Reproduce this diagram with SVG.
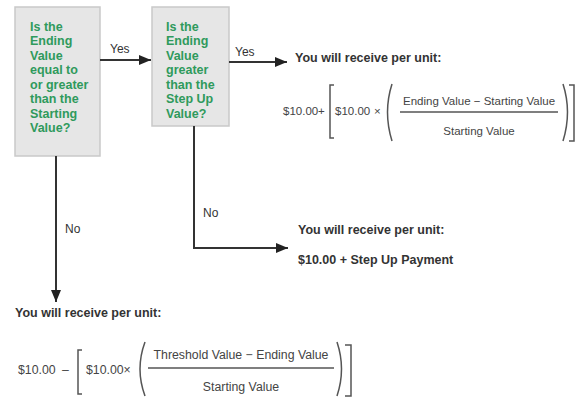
<svg xmlns="http://www.w3.org/2000/svg" width="579" height="398" viewBox="0 0 579 398">
<style>
.box{fill:#e6e6e6;stroke:#c9c9c9;stroke-width:1.5}
.q{font-family:"Liberation Sans",Arial,sans-serif;font-weight:bold;font-size:12.5px;fill:#2f9a5c}
.lbl{font-family:"Liberation Sans",Arial,sans-serif;font-size:12px;fill:#333}
.out{font-family:"Liberation Sans",Arial,sans-serif;font-weight:bold;font-size:12.5px;fill:#333}
.f{font-family:"Liberation Sans",Arial,sans-serif;font-size:11.5px;fill:#444}
.fb{font-family:"Liberation Sans",Arial,sans-serif;font-size:12.3px;fill:#444}
.con{fill:none;stroke:#333;stroke-width:2}
.br{fill:none;stroke:#555;stroke-width:1.5}
.fl{stroke:#555;stroke-width:1.3}
</style>
<defs>
<marker id="ah" markerUnits="userSpaceOnUse" markerWidth="13" markerHeight="11" refX="12" refY="5" orient="auto">
<path d="M0,0 L12,5 L0,10 z" fill="#222"/>
</marker>
</defs>

<g id="q1">
<rect class="box" x="15" y="7" width="85" height="149"/>
<text class="q" x="30" y="30.5">Is the</text>
<text class="q" x="30" y="45">Ending</text>
<text class="q" x="30" y="59.5">Value</text>
<text class="q" x="30" y="74">equal to</text>
<text class="q" x="30" y="88.5">or greater</text>
<text class="q" x="30" y="103">than the</text>
<text class="q" x="30" y="117.5">Starting</text>
<text class="q" x="30" y="132">Value?</text>
</g>

<g id="q2">
<rect class="box" x="152" y="7" width="77" height="119"/>
<text class="q" x="166" y="30.5">Is the</text>
<text class="q" x="166" y="45">Ending</text>
<text class="q" x="166" y="59.5">Value</text>
<text class="q" x="166" y="74">greater</text>
<text class="q" x="166" y="88.5">than the</text>
<text class="q" x="166" y="103">Step Up</text>
<text class="q" x="166" y="117.5">Value?</text>
</g>

<g id="connectors">
<line class="con" x1="100" y1="60" x2="151" y2="60" marker-end="url(#ah)"/>
<text class="lbl" x="110" y="53">Yes</text>
<line class="con" x1="229" y1="62" x2="287" y2="62" marker-end="url(#ah)"/>
<text class="lbl" x="235" y="56">Yes</text>
<line class="con" x1="56" y1="156" x2="56" y2="302" marker-end="url(#ah)"/>
<text class="lbl" x="65" y="233">No</text>
<path class="con" d="M194,126 V248 H288" marker-end="url(#ah)"/>
<text class="lbl" x="203" y="217">No</text>
</g>

<g id="result-up">
<text class="out" x="295" y="62">You will receive per unit:</text>
<text class="f" x="283" y="115">$10.00</text>
<text class="f" x="318" y="115">+</text>
<path class="br" d="M334,85 H330 V138 H334"/>
<text class="f" x="335" y="115">$10.00</text>
<text class="f" x="374" y="115">×</text>
<path class="br" d="M392,84 Q383,112 392,141"/>
<text class="f" x="479" y="105" text-anchor="middle">Ending Value − Starting Value</text>
<line class="fl" x1="400" y1="112" x2="558" y2="112"/>
<text class="f" x="479" y="135" text-anchor="middle">Starting Value</text>
<path class="br" d="M563,84 Q572,112 563,141"/>
<path class="br" d="M569,85 H574 V141 H569"/>
</g>

<g id="result-mid">
<text class="out" x="298" y="234">You will receive per unit:</text>
<text class="out" x="298" y="264">$10.00 + Step Up Payment</text>
</g>

<g id="result-down">
<text class="out" x="15" y="317">You will receive per unit:</text>
<text class="fb" x="18" y="374">$10.00</text>
<text class="fb" x="62" y="374">–</text>
<path class="br" d="M82,350 H78 V394 H82"/>
<text class="fb" x="86" y="374">$10.00×</text>
<path class="br" d="M145,342 Q135,369 145,396"/>
<text class="fb" x="241" y="359" text-anchor="middle">Threshold Value − Ending Value</text>
<line class="fl" x1="148" y1="368" x2="334" y2="368"/>
<text class="fb" x="241" y="391" text-anchor="middle">Starting Value</text>
<path class="br" d="M337,342 Q346,369 337,396"/>
<path class="br" d="M345,345 H351 V396 H345"/>
</g>
</svg>
